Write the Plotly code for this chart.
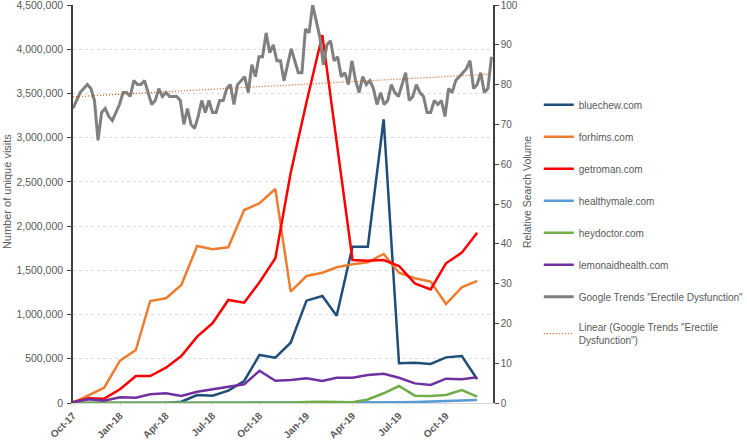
import numpy as np
import pandas as pd
import plotly.graph_objects as go

months = pd.date_range("2017-10-01", "2019-12-01", freq="MS")

bluechew = [0, 0, 0, 0, 0, 0, 0, 15000, 90000, 83000, 140000, 249000, 543000, 513000,
            682000, 1157000, 1210000, 987000, 1767000, 1767000, 3208000, 449000, 456000,
            441000, 516000, 531000, 268000]
forhims = [0, 90000, 173000, 478000, 600000, 1153000, 1184000, 1334000, 1775000, 1738000,
           1760000, 2182000, 2258000, 2420000, 1259000, 1436000, 1473000, 1534000, 1568000,
           1591000, 1685000, 1473000, 1410000, 1372000, 1119000, 1308000, 1380000]
getroman = [10000, 53000, 49000, 155000, 305000, 305000, 399000, 531000, 750000, 901000,
            1165000, 1134000, 1365000, 1636000, 2600000, 3400000, 4160000, 2950000, 1617000,
            1609000, 1617000, 1549000, 1353000, 1285000, 1580000, 1700000, 1926000]
healthymale = [0, 0, 0, 0, 0, 0, 0, 0, 0, 0, 0, 0, 0, 0, 0, 0, 0, 0, 0, 2000,
               5000, 8000, 10000, 15000, 22000, 28000, 33000]
heydoctor = [0, 0, 0, 0, 0, 0, 0, 0, 0, 0, 0, 0, 0, 0, 5000, 10000, 15000, 10000, 8000,
             40000, 110000, 192000, 83000, 79000, 90000, 147000, 72000]
lemonaidhealth = [8000, 42000, 26000, 64000, 60000, 98000, 110000, 79000, 128000, 155000,
                  177000, 211000, 365000, 252000, 260000, 279000, 249000, 286000, 286000,
                  317000, 331000, 286000, 222000, 204000, 275000, 268000, 290000]

google_trends = [
    74, 76, 78, 79, 80, 79, 76, 66, 73, 74, 72, 71, 73, 75, 78, 78, 77, 81, 80, 80,
    81, 78, 75, 76, 79, 77, 78, 77, 77, 77,
    76, 70, 74, 70, 69, 72, 76, 73, 76, 73, 73, 76, 76, 79, 80, 75, 80, 81, 82, 78,
    85, 82, 87, 87, 93, 88, 90, 86, 86, 81,
    85, 89, 86, 83, 83, 94, 93, 100, 96, 92, 85, 90, 91, 86, 87, 82, 83, 80, 86, 81,
    78, 82, 80, 81, 79, 75, 78, 75, 76, 80,
    78, 77, 80, 83, 76, 77, 80, 78, 77, 73, 73, 76, 75, 76, 72, 79, 78, 81, 82, 83,
    84, 86, 79, 80, 83, 78, 79, 87,
]
weeks = pd.date_range("2017-10-01", periods=len(google_trends), freq="7D")

tick_vals = pd.date_range("2017-10-01", "2019-10-01", freq="3MS")
tick_text = ["Oct-17", "Jan-18", "Apr-18", "Jul-18", "Oct-18", "Jan-19", "Apr-19", "Jul-19", "Oct-19"]

# linear trendline of google trends
idx = np.arange(len(google_trends))
coef = np.polyfit(idx, google_trends, 1)
trend = np.polyval(coef, idx)

FONT = "Liberation Sans, Arial, sans-serif"
TXT = "#595959"

series = [
    ("bluechew.com", bluechew, "#1F4E79"),
    ("forhims.com", forhims, "#ED7D31"),
    ("getroman.com", getroman, "#FF0000"),
    ("healthymale.com", healthymale, "#5B9BD5"),
    ("heydoctor.com", heydoctor, "#70AD47"),
    ("lemonaidhealth.com", lemonaidhealth, "#7030A0"),
]

fig = go.Figure()
for i, (name, vals, col) in enumerate(series):
    fig.add_trace(go.Scatter(x=months, y=vals, name=name, mode="lines",
                             line=dict(color=col, width=2.5), legendgroup=f"g{i}"))

fig.add_trace(go.Scatter(x=weeks, y=google_trends, name='Google Trends "Erectile Dysfunction"',
                         mode="lines", line=dict(color="#808080", width=3), yaxis="y2",
                         legendgroup="g6"))
fig.add_trace(go.Scatter(x=weeks, y=trend, name='Linear (Google Trends "Erectile<br>Dysfunction")',
                         mode="lines", line=dict(color="#C55A11", width=1.2, dash="1px,2px"),
                         yaxis="y2", legendgroup="g7"))

fig.update_layout(
    width=747, height=441,
    margin=dict(l=73, r=254, t=5, b=38, autoexpand=False),
    paper_bgcolor="white", plot_bgcolor="white",
    font=dict(family=FONT, size=10, color=TXT),
    showlegend=True,
    legend=dict(x=1.109, y=0.786, xanchor="left", yanchor="top",
                font=dict(family=FONT, size=10, color=TXT),
                itemwidth=30, tracegroupgap=13, bgcolor="rgba(0,0,0,0)"),
    xaxis=dict(type="date", range=["2017-10-01", "2020-01-01"],
               tickvals=tick_vals, ticktext=tick_text, tickangle=-45,
               tickfont=dict(family=FONT, size=10, color=TXT, weight="bold"),
               ticklabeloverflow="allow", automargin=False,
               showgrid=False, showline=True, linecolor="#D9D9D9", linewidth=1,
               ticks="outside", ticklen=2, tickcolor="#D9D9D9", zeroline=False),
    yaxis=dict(range=[0, 4500000], dtick=500000, tickformat=",",
               tickfont=dict(family=FONT, size=10.5, color=TXT),
               ticklabeloverflow="allow", automargin=False,
               showgrid=True, gridcolor="#D9D9D9", griddash="dot", gridwidth=1,
               showline=True, linecolor="#404040", linewidth=1.5,
               ticks="outside", ticklen=4, tickcolor="#404040", zeroline=False,
               ticklabelstandoff=2),
    yaxis2=dict(range=[0, 100], dtick=10, overlaying="y", side="right",
                tickfont=dict(family=FONT, size=10, color=TXT),
                ticklabeloverflow="allow", automargin=False,
                showgrid=False, showline=True, linecolor="#404040", linewidth=1.5,
                ticks="outside", ticklen=4, tickcolor="#404040", zeroline=False),
    annotations=[
        dict(text="Number of unique visits", xref="paper", yref="paper",
             x=-0.157, y=0.53, textangle=-90, showarrow=False,
             font=dict(family=FONT, size=11, color=TXT), xanchor="center", yanchor="middle"),
        dict(text="Relative Search Volume", xref="paper", yref="paper",
             x=1.081, y=0.53, textangle=-90, showarrow=False,
             font=dict(family=FONT, size=10.5, color=TXT), xanchor="center", yanchor="middle"),
    ],
)

fig.write_html("out.html", config={"displayModeBar": False},
               post_script="document.body.style.margin='0';")
